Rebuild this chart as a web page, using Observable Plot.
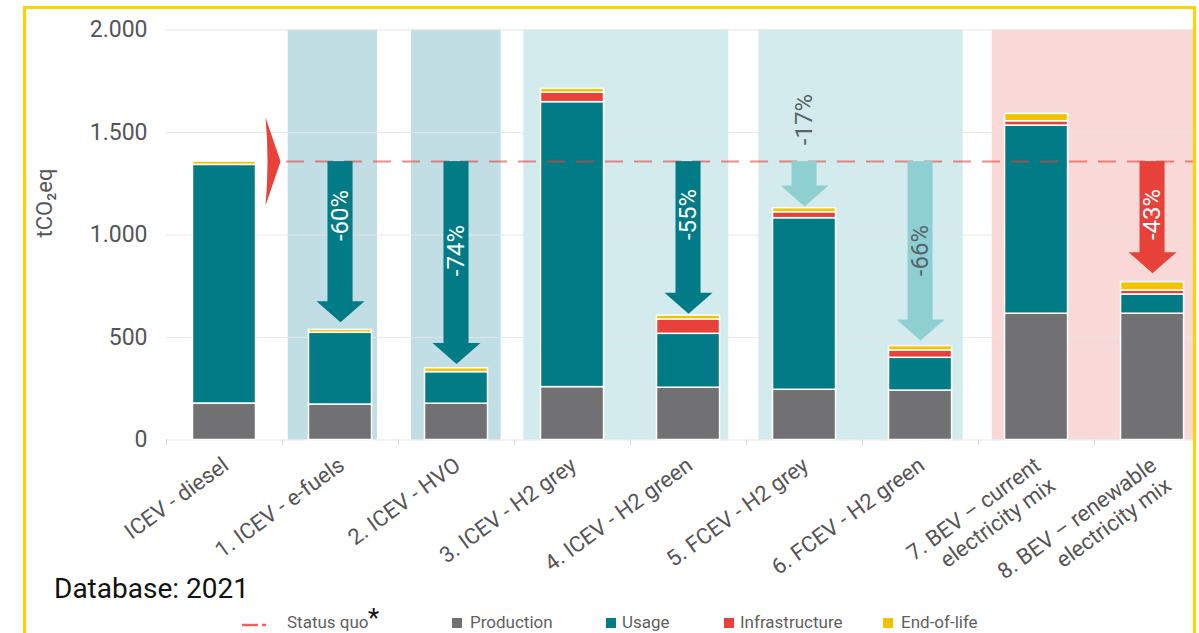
<!DOCTYPE html>
<html><head><meta charset="utf-8">
<script src="https://cdn.jsdelivr.net/npm/d3@7"></script>
<script src="https://cdn.jsdelivr.net/npm/@observablehq/plot@0.6"></script>
<style>
html,body{margin:0;padding:0;background:#fff;}
body{width:1199px;height:633px;overflow:hidden;position:relative;font-family:Roboto,sans-serif;}
#chart{position:absolute;left:0;top:0;}
#frame{position:absolute;left:23px;top:6px;width:1167px;height:700px;border:3.5px solid #ffd200;border-bottom:none;pointer-events:none;z-index:5;}
#db{position:absolute;left:54px;top:575px;font-size:28px;line-height:28px;color:#111;white-space:nowrap;}
.lg{position:absolute;top:614px;font-size:17px;line-height:17px;color:#5f5f5f;white-space:nowrap;}
.sw{position:absolute;top:618px;width:10px;height:10px;}
#ast{position:absolute;left:368px;top:605px;font-size:26px;line-height:26px;color:#111;}
</style>
</head><body>
<div id="chart"></div>
<div id="db">Database: 2021</div>
<div id="legend"></div>
<div id="frame"></div>
<script>
// ---- data ----
const categories = ["ICEV - diesel","1. ICEV - e-fuels","2. ICEV - HVO","3. ICEV - H2 grey","4. ICEV - H2 green","5. FCEV - H2 grey","6. FCEV - H2 green","7. BEV – current\nelectricity mix","8. BEV – renewable\nelectricity mix"];
const components = ["Production","Usage","Infrastructure","End-of-life"];
const production     = [178, 173, 177, 258, 255, 245, 241, 616, 616];
const usage          = [1164, 350, 154, 1390, 263, 837, 160, 918, 94];
const infrastructure = [0, 0, 0, 46, 70, 29, 36, 21, 19];
const endOfLife      = [16, 14, 19, 19, 19, 20, 21, 36, 41];
const statusQuo = 1358;
const yTicks = [0, 500, 1000, 1500, 2000];
const arrowCats   = [1, 2, 4, 5, 6, 8];
const arrowLabels = ["-60%", "-74%", "-55%", "-17%", "-66%", "-43%"];
const arrowTips   = [574, 371, 616, 1139, 485, 814];
const arrowLabelY = [1095, 924, 1100, 1563, 924, 1100];
const arrowKinds  = ["dark", "dark", "dark", "light", "light", "red"];
const bandStart = [0.549, 1.612, 2.58, 4.606, 6.618];
const bandEnd   = [1.319, 2.385, 4.347, 6.368, 8.353];
const bandKinds = ["bandBlue", "bandBlue", "bandTeal", "bandTeal", "bandPink"];

// ---- derived tables ----
const series = [production, usage, infrastructure, endOfLife];
const rows = [];
categories.forEach((c, i) => components.forEach((k, j) => rows.push({i, component: k, value: series[j][i]})));
const arrows = arrowCats.map((c, j) => ({i: c, label: arrowLabels[j], tip: arrowTips[j], ly: arrowLabelY[j], kind: arrowKinds[j]}));
const bands = bandStart.map((s, j) => ({x1: s, x2: bandEnd[j], kind: bandKinds[j]}));
const boundaries = d3.range(-0.5, 8, 1);

const colorDomain = [...components, "dark", "light", "red", "bandBlue", "bandTeal", "bandPink"];
const colorRange = ["#717174", "#017b86", "#e8413a", "#f2c400", "#017b86", "#8ed0d2", "#e8413a", "#c2dee5", "#d3ebec", "#f9d9d7"];
const colorOf = k => colorRange[colorDomain.indexOf(k)];

const fmt = d3.formatLocale({decimal: ",", thousands: ".", grouping: [3], currency: ["", "€"]}).format(",");

const headSymbol = {draw(ctx) { ctx.moveTo(0, 0); ctx.lineTo(-24, -21); ctx.lineTo(24, -21); ctx.closePath(); }};
const flagSymbol = {draw(ctx) { ctx.moveTo(-15, -44); ctx.lineTo(0, 0); ctx.lineTo(-15, 44); ctx.quadraticCurveTo(-11, 0, -15, -44); ctx.closePath(); }};
const halfBar = 0.2716, halfShaft = 0.108, headLen = 95;

const chart = Plot.plot({
  width: 1199, height: 565,
  marginTop: 29.5, marginBottom: 125.5, marginLeft: 166, marginRight: 6,
  x: {domain: [-0.5, 8.353], axis: null},
  y: {domain: [0, 2000], axis: null},
  color: {domain: colorDomain, range: colorRange},
  style: {fontFamily: "Roboto, sans-serif", background: "transparent", overflow: "visible"},
  marks: [
    Plot.rect(bands, {x1: "x1", x2: "x2", y1: () => 0, y2: () => 2000, fill: "kind"}),
    Plot.ruleY(yTicks, {stroke: "#e4e4e4", strokeWidth: 1.2, strokeOpacity: 0.9}),
    Plot.ruleX(boundaries, {x: d => d, y1: () => 0, y2: () => 0, insetBottom: -6, stroke: "#d8d8d8"}),
    Plot.rectY(rows, {x1: d => d.i - halfBar, x2: d => d.i + halfBar, y: "value", fill: "component", stroke: "white", strokeWidth: 1.5}),
    Plot.ruleY([statusQuo], {x1: () => 0.535, x2: () => 8.353, stroke: "#e8413a", strokeOpacity: 0.6, strokeWidth: 2, strokeDasharray: "18,11"}),
    Plot.rect(arrows, {x1: d => d.i - halfShaft, x2: d => d.i + halfShaft, y1: () => statusQuo, y2: d => d.tip + headLen, fill: "kind"}),
    Plot.dot(arrows, {x: "i", y: "tip", symbol: headSymbol, fill: "kind", stroke: null}),
    Plot.text(arrows.filter(d => d.kind !== "light"), {x: "i", y: "ly", text: "label", rotate: -90, fontSize: 24, fill: "white"}),
    Plot.text(arrows.filter(d => d.kind === "light"), {x: "i", y: "ly", text: "label", rotate: -90, fontSize: 24, fill: "#56646a"}),
    Plot.dot([statusQuo], {x: () => 0.483, y: d => d, symbol: flagSymbol, fill: "#e8413a", stroke: null}),
    Plot.text(yTicks, {y: d => d, frameAnchor: "left", dx: -19, textAnchor: "end", text: d => fmt(d), fontSize: 23, fill: "#555"}),
    Plot.text(categories, {x: (d, i) => i, frameAnchor: "bottom", dx: -5, dy: 14, rotate: -36, textAnchor: "end", lineAnchor: "top", lineHeight: 1.14, fontSize: 22, fill: "#555", text: d => d}),
    Plot.text([{t: "tCO₂eq", v: 988}], {y: "v", text: "t", frameAnchor: "left", dx: -122, rotate: -90, fontSize: 22, fill: "#555"})
  ]
});
document.getElementById("chart").appendChild(chart);

// ---- legend ----
const legend = document.getElementById("legend");
const legendText = [["Status quo", 287]];
const swLeft = [452, 606, 724, 883];
const txtLeft = [470, 622, 740, 901];
legend.innerHTML =
  '<svg style="position:absolute;left:240px;top:620px" width="30" height="10"><line x1="2" y1="5" x2="18" y2="5" stroke="#ec6460" stroke-width="2.5"/><line x1="22" y1="5" x2="26" y2="5" stroke="#ec6460" stroke-width="2.5"/></svg>' +
  `<div class="lg" style="left:${legendText[0][1]}px">${legendText[0][0]}</div><div id="ast">*</div>` +
  components.map((k, j) => `<div class="sw" style="left:${swLeft[j]}px;background:${colorOf(k)}"></div><div class="lg" style="left:${txtLeft[j]}px">${k}</div>`).join("");
</script>
</body></html>
